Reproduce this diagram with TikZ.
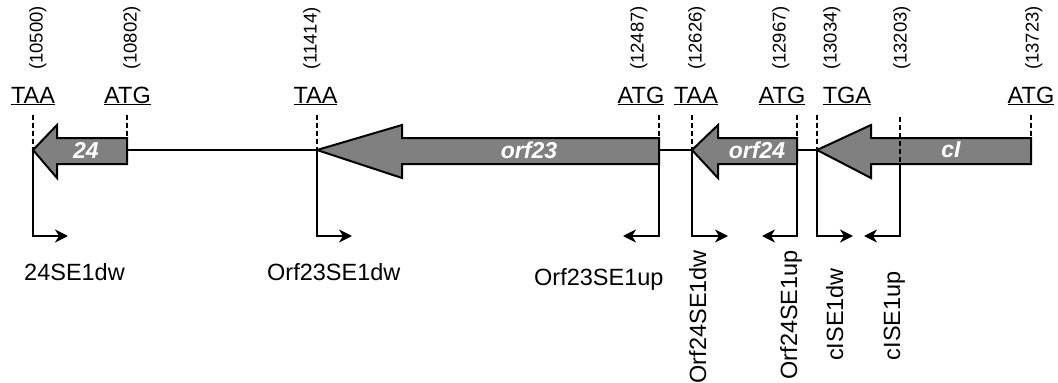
\documentclass[tikz,border=0pt]{standalone}
\usepackage{fontspec}
\setmainfont{Liberation Sans}
\usetikzlibrary{arrows.meta}
\definecolor{genegray}{RGB}{128,128,128}
\newcommand{\posfont}{\fontsize{18.5}{22}\selectfont}
\tikzset{
  codon/.style={anchor=base,inner sep=0pt,font=\fontsize{23.5}{28}\selectfont},
  posnum/.style={inner sep=0pt,rotate=90,anchor=base west},
  genelabel/.style={text=white,inner sep=0pt,font=\fontsize{23}{27}\selectfont\bfseries\itshape},
  primer/.style={inner sep=0pt,font=\fontsize{23.5}{28}\selectfont},
  vprimer/.style={primer,rotate=90,anchor=base east},
  guide/.style={line width=2pt,dash pattern=on 5pt off 3pt},
  backbone/.style={line width=2pt},
  gene/.style={draw=black,fill=genegray,line width=2pt,line join=miter},
  bent/.style={line width=2pt,-{Stealth[length=13pt,width=13pt,inset=4pt]}},
}
\newcommand{\genearrow}[3]{% tip x, head base x, body end x
  \draw[gene] (#1,150) -- (#2,125) -- (#2,138) -- (#3,138) -- (#3,164)
    -- (#2,164) -- (#2,178) -- cycle;}
\begin{document}
\begin{tikzpicture}[x=1pt,y=-1pt]
\useasboundingbox (0,0) rectangle (1058,383);

% positions on the map
\coordinate (pA) at (33,150);   \coordinate (tA) at (33,115);
\coordinate (pB) at (127,138);  \coordinate (tB) at (127,115);
\coordinate (pC) at (317,150);  \coordinate (tC) at (317,115);
\coordinate (pD) at (659,164);  \coordinate (tD) at (659,115); \coordinate (qD) at (659,138);
\coordinate (pE) at (692,150);  \coordinate (tE) at (692,115);
\coordinate (pF) at (797,164);  \coordinate (tF) at (797,115); \coordinate (qF) at (797,138);
\coordinate (pG) at (817,150);  \coordinate (tG) at (817,115);
\coordinate (pH) at (900,164);  \coordinate (tH) at (900,117);
\coordinate (pI) at (1031,138); \coordinate (tI) at (1031,115);

% backbone
\draw[backbone] (127,150) -- (317,150);
\draw[backbone] (659,150) -- (692,150);
\draw[backbone] (797,150) -- (817,150);

% genes
\genearrow{33}{57}{127}
\genearrow{317}{402}{659}
\genearrow{692}{718}{797}
\genearrow{817}{871}{1031}
\node[genelabel] (g24) at (86,150) {24};
\node[genelabel] (g23) at (529,150) {orf23};
\node[genelabel] (g24b) at (757,150) {orf24};
\node[genelabel] (gcI) at (951,150) {cI};

% codons
\node[codon] (cA) at (33,103) {\underline{TAA}};
\node[codon] (cB) at (127.5,103) {\underline{ATG}};
\node[codon] (cC) at (315.5,103) {\underline{TAA}};
\node[codon] (cD) at (641,103) {\underline{ATG}};
\node[codon] (cE) at (696,103) {\underline{TAA}};
\node[codon] (cF) at (782,103) {\underline{ATG}};
\node[codon] (cG) at (847,103) {\underline{TGA}};
\node[codon] (cI) at (1031,103) {\underline{ATG}};

% positions
\node[posnum] (nA) at (42.5,70) {\posfont(10500)};
\node[posnum] (nB) at (136.5,70) {\posfont(10802)};
\node[posnum] (nC) at (316.5,70) {\posfont(11414)};
\node[posnum] (nD) at (643.5,70) {\posfont(12487)};
\node[posnum] (nE) at (701.5,70) {\posfont(12626)};
\node[posnum] (nF) at (785.5,70) {\posfont(12967)};
\node[posnum] (nG) at (836.5,70) {\posfont(13034)};
\node[posnum] (nH) at (906.5,70) {\posfont(13203)};
\node[posnum] (nI) at (1038.5,70) {\posfont(13723)};

% dashed guides
\draw[guide] (tA) -- (pA);
\draw[guide] (tB) -- (pB);
\draw[guide] (tC) -- (pC);
\draw[guide] (tD) -- (qD);
\draw[guide] (tE) -- (pE);
\draw[guide] (tF) -- (qF);
\draw[guide] (tG) -- (pG);
\draw[guide] (tH) -- (pH);
\draw[guide] (tI) -- (pI);

% primer ends
\coordinate (eA) at (68,236);
\coordinate (eC) at (352,236);
\coordinate (eD) at (623,236);
\coordinate (eE) at (728,236);
\coordinate (eF) at (762,236);
\coordinate (eG) at (853,236);
\coordinate (eH) at (864,236);

\draw[bent] (pA) |- (eA);
\draw[bent] (pC) |- (eC);
\draw[bent] (pD) |- (eD);
\draw[bent] (pE) |- (eE);
\draw[bent] (pF) |- (eF);
\draw[bent] (pG) |- (eG);
\draw[bent] (pH) |- (eH);

% primer labels
\node[primer,anchor=base west] (lA) at (24,280) {24SE1dw};
\node[primer,anchor=base west] (lC) at (267,280) {Orf23SE1dw};
\node[primer,anchor=base west] (lD) at (534,285) {Orf23SE1up};
\node[vprimer] (lE) at (706,250) {Orf24SE1dw};
\node[vprimer] (lF) at (797,250) {Orf24SE1up};
\node[vprimer] (lG) at (843,268) {cISE1dw};
\node[vprimer] (lH) at (900,271) {cISE1up};
\end{tikzpicture}
\end{document}
